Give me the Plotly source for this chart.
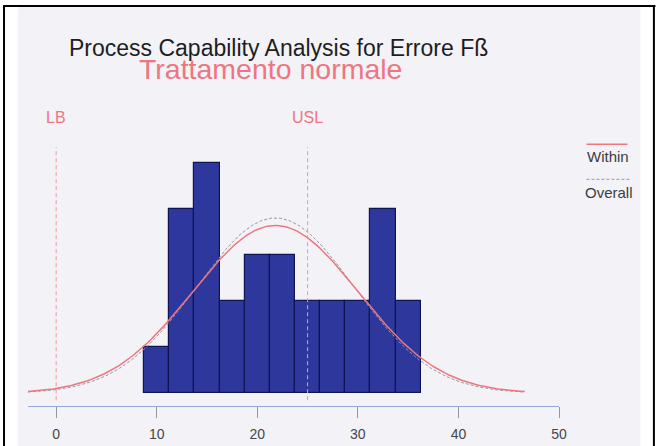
import numpy as np
import plotly.graph_objects as go

# ---------------- data ----------------
bin_centers = [10, 12.5, 15, 17.5, 20, 22.5, 25, 27.5, 30, 32.5, 35]
bin_counts = [1, 4, 5, 2, 3, 3, 2, 2, 2, 4, 2]
bin_width = 2.5
lower_bound = 0      # LB
usl = 25             # USL
fit_mean = 21.8
sigma_within = 8.2
sigma_overall = 7.85
curve_start, curve_end = -2.8, 46.6
x_ticks = [0, 10, 20, 30, 40, 50]
title_text = "Process Capability Analysis for Errore Fß"
subtitle_text = "Trattamento normale"

# ---------------- geometry helpers ----------------
W, H = 656, 446
L, R, T, B = 28, 559.5, 100, 406
PX_PER_COUNT = 46.0
BASE_PX = 393.3
y_lo = -(B - BASE_PX) / PX_PER_COUNT
y_hi = y_lo + (B - T) / PX_PER_COUNT


def xp(px):
    return (px - L) / (R - L)


def yp(py):
    return (B - py) / (B - T)


FONT = "Liberation Sans, Arial, Helvetica, sans-serif"
PINK = "rgb(238,118,128)"
PINK_LIGHT = "rgb(240,150,160)"
BAR_FILL = "rgb(46,56,156)"
BAR_EDGE = "rgb(14,20,84)"
BG = "rgb(243,242,247)"

n_total = sum(bin_counts)
scale = n_total * bin_width
xc = np.linspace(curve_start, curve_end, 300)


def norm_curve(mu, s):
    return scale * np.exp(-0.5 * ((xc - mu) / s) ** 2) / (s * np.sqrt(2 * np.pi))


fig = go.Figure()
fig.add_trace(go.Bar(
    x=bin_centers, y=bin_counts, width=bin_width,
    marker=dict(color=BAR_FILL, line=dict(color=BAR_EDGE, width=1.2)),
    showlegend=False, hoverinfo="skip",
))
fig.add_trace(go.Scatter(
    x=xc, y=norm_curve(fit_mean, sigma_overall), mode="lines",
    line=dict(color="rgb(150,150,165)", width=1, dash="3px,2px"),
    showlegend=False, hoverinfo="skip",
))
fig.add_trace(go.Scatter(
    x=xc, y=norm_curve(fit_mean, sigma_within), mode="lines",
    line=dict(color=PINK, width=1.5),
    showlegend=False, hoverinfo="skip",
))

shapes = [
    # gray panel
    dict(type="rect", xref="paper", yref="paper", x0=xp(18), x1=xp(641), y0=yp(446), y1=yp(7),
         fillcolor=BG, line=dict(width=0), layer="below"),
    # black frame
    dict(type="line", xref="paper", yref="paper", x0=xp(3), x1=xp(656), y0=yp(6), y1=yp(6),
         line=dict(color="black", width=2)),
    dict(type="line", xref="paper", yref="paper", x0=xp(4), x1=xp(4), y0=yp(6), y1=yp(446),
         line=dict(color="black", width=2)),
    dict(type="line", xref="paper", yref="paper", x0=xp(654.5), x1=xp(654.5), y0=yp(6), y1=yp(446),
         line=dict(color="black", width=2)),
    # LB / USL reference lines
    dict(type="line", xref="x", yref="y", x0=lower_bound, x1=lower_bound, y0=-0.15, y1=5.35,
         line=dict(color=PINK_LIGHT, width=1, dash="4px,3px")),
    dict(type="line", xref="x", yref="y", x0=usl, x1=usl, y0=-0.15, y1=5.35,
         line=dict(color=PINK_LIGHT, width=1, dash="4px,3px")),
    # custom legend symbols
    dict(type="line", xref="paper", yref="paper", x0=xp(587), x1=xp(628), y0=yp(144.3), y1=yp(144.3),
         line=dict(color=PINK, width=1.5)),
    dict(type="line", xref="paper", yref="paper", x0=xp(587), x1=xp(632), y0=yp(179.3), y1=yp(179.3),
         line=dict(color="rgb(150,150,165)", width=1, dash="3px,2px")),
]

title_block = (
    f"<span style='font-size:23px;color:rgb(30,30,30)'>{title_text}</span><br>"
    f"<span style='font-size:28.5px;color:{PINK}'>{subtitle_text}&nbsp;&nbsp;</span>"
)

annotations = [
    dict(text=title_block, x=xp(278.5), y=yp(59.5), xref="paper", yref="paper",
         xanchor="center", yanchor="middle", showarrow=False, align="center",
         font=dict(family=FONT, size=18, color="rgb(30,30,30)")),
    dict(text="LB", x=lower_bound, y=yp(117), xref="x", yref="paper",
         xanchor="center", yanchor="middle", showarrow=False,
         font=dict(family=FONT, size=16, color=PINK)),
    dict(text="USL", x=usl, y=yp(117), xref="x", yref="paper",
         xanchor="center", yanchor="middle", showarrow=False,
         font=dict(family=FONT, size=16, color=PINK)),
    dict(text="Within", x=xp(609), y=yp(156), xref="paper", yref="paper",
         xanchor="center", yanchor="middle", showarrow=False,
         font=dict(family=FONT, size=15, color="rgb(60,60,60)")),
    dict(text="Overall", x=xp(609.5), y=yp(192), xref="paper", yref="paper",
         xanchor="center", yanchor="middle", showarrow=False,
         font=dict(family=FONT, size=15, color="rgb(60,60,60)")),
]

fig.update_layout(
    width=W, height=H,
    margin=dict(l=L, r=W - R, t=T, b=H - B, pad=0, autoexpand=False),
    paper_bgcolor="white", plot_bgcolor="rgba(0,0,0,0)",
    bargap=0,
    shapes=shapes, annotations=annotations,
    font=dict(family=FONT),
    xaxis=dict(range=[curve_start, 50], tickvals=x_ticks, ticktext=[str(v) for v in x_ticks],
               showgrid=False, zeroline=False, showline=True, automargin=False,
               linecolor="rgb(150,170,215)", linewidth=1.2,
               ticks="outside", ticklen=11, tickcolor="rgb(150,150,160)", tickwidth=1,
               ticklabelstandoff=4,
               tickfont=dict(family=FONT, size=14, color="rgb(70,70,70)")),
    yaxis=dict(range=[y_lo, y_hi], visible=False, showgrid=False, zeroline=False,
               automargin=False),
)

fig.write_html("out.html")
